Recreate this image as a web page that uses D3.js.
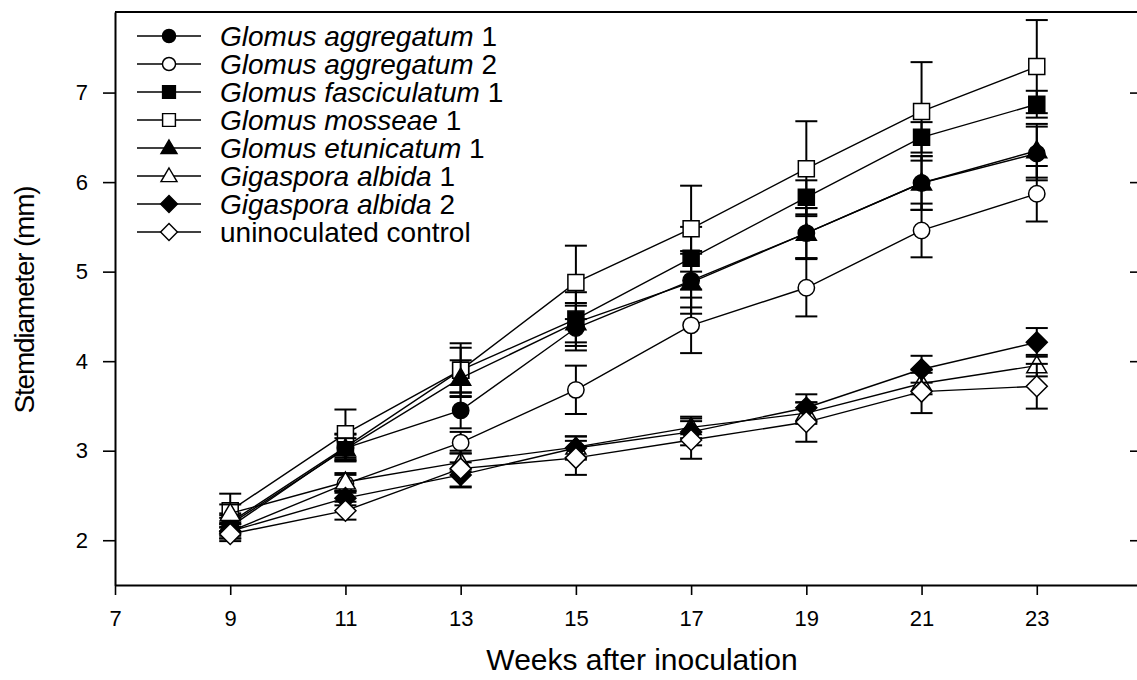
<!DOCTYPE html>
<html>
<head>
<meta charset="utf-8">
<script src="https://cdn.jsdelivr.net/npm/d3@7"></script>
<style>
  body { margin: 0; background: #fff; }
  text { font-family: "Liberation Sans", Arial, sans-serif; fill: #000; }
</style>
</head>
<body>
<script>
// weeks after inoculation
var weeks = [9, 11, 13, 15, 17, 19, 21, 23];

var seriesNames = [
    ["Glomus aggregatum", " 1"],
    ["Glomus aggregatum", " 2"],
    ["Glomus fasciculatum", " 1"],
    ["Glomus mosseae", " 1"],
    ["Glomus etunicatum", " 1"],
    ["Gigaspora albida", " 1"],
    ["Gigaspora albida", " 2"],
    ["", "uninoculated control"]
];

// stem diameter means (mm)
var aggregatum1 = [2.15, 3.03, 3.45, 4.37, 4.90, 5.43, 5.99, 6.32];
var aggregatum2 = [2.10, 2.63, 3.09, 3.68, 4.40, 4.82, 5.46, 5.87];
var fasciculatum1 = [2.20, 3.04, 3.90, 4.47, 5.15, 5.83, 6.50, 6.87];
var mosseae1 = [2.33, 3.19, 3.90, 4.88, 5.48, 6.15, 6.79, 7.29];
var etunicatum1 = [2.18, 3.02, 3.81, 4.43, 4.88, 5.43, 5.99, 6.35];
var albida1 = [2.30, 2.65, 2.87, 3.04, 3.26, 3.42, 3.75, 3.95];
var albida2 = [2.10, 2.47, 2.73, 3.03, 3.21, 3.48, 3.91, 4.21];
var control = [2.07, 2.33, 2.80, 2.92, 3.12, 3.32, 3.66, 3.72];

// standard errors
var aggregatum1Err = [0.10, 0.15, 0.20, 0.25, 0.30, 0.28, 0.30, 0.30];
var aggregatum2Err = [0.08, 0.10, 0.12, 0.27, 0.31, 0.32, 0.30, 0.31];
var fasciculatum1Err = [0.10, 0.15, 0.25, 0.30, 0.35, 0.19, 0.17, 0.15];
var mosseae1Err = [0.19, 0.27, 0.30, 0.41, 0.48, 0.53, 0.55, 0.52];
var etunicatum1Err = [0.10, 0.12, 0.20, 0.22, 0.35, 0.28, 0.30, 0.30];
var albida1Err = [0.10, 0.10, 0.10, 0.12, 0.12, 0.12, 0.12, 0.12];
var albida2Err = [0.08, 0.08, 0.14, 0.13, 0.15, 0.15, 0.15, 0.16];
var controlErr = [0.08, 0.10, 0.20, 0.19, 0.21, 0.22, 0.24, 0.25];

var xTicks = [7, 9, 11, 13, 15, 17, 19, 21, 23];
var yTicks = [2, 3, 4, 5, 6, 7];

var series = [
    { values: aggregatum1, err: aggregatum1Err, shape: "circle", fill: "#000" },
    { values: aggregatum2, err: aggregatum2Err, shape: "circle", fill: "#fff" },
    { values: fasciculatum1, err: fasciculatum1Err, shape: "square", fill: "#000" },
    { values: mosseae1, err: mosseae1Err, shape: "square", fill: "#fff" },
    { values: etunicatum1, err: etunicatum1Err, shape: "triangle", fill: "#000" },
    { values: albida1, err: albida1Err, shape: "triangle", fill: "#fff" },
    { values: albida2, err: albida2Err, shape: "diamond", fill: "#000" },
    { values: control, err: controlErr, shape: "diamond", fill: "#fff" }
];

var W = 1137, H = 680;
var mLeft = 115, mRight = 1152, mTop = 12, mBottom = 585;

var svg = d3.select("body").append("svg")
    .attr("width", W)
    .attr("height", H);

var x = d3.scaleLinear().domain([7, 25]).range([mLeft, mRight]);
var y = d3.scaleLinear().domain([1.5, 7.9]).range([mBottom, mTop]);

function symbolPath(shape) {
    if (shape === "circle") return d3.symbol().type(d3.symbolCircle).size(210)();
    if (shape === "square") return d3.symbol().type(d3.symbolSquare).size(256)();
    if (shape === "triangle") return "M0,-10L10,7L-10,7Z";
    return "M0,-10.5L10.5,0L0,10.5L-10.5,0Z";
}

// frame top
svg.append("line").attr("x1", mLeft).attr("x2", mRight).attr("y1", mTop).attr("y2", mTop)
    .attr("stroke", "#000").attr("stroke-width", 2);

// x axis
var xAxis = svg.append("g")
    .attr("transform", "translate(0," + mBottom + ")")
    .call(d3.axisBottom(x).tickValues(xTicks).tickSize(10).tickPadding(12).tickSizeOuter(0));
// y axis
var yAxis = svg.append("g")
    .attr("transform", "translate(" + mLeft + ",0)")
    .call(d3.axisLeft(y).tickValues(yTicks).tickFormat(d3.format("d"))
        .tickSize(12).tickPadding(15).tickSizeOuter(0));
// right side ticks (inward)
var yAxisR = svg.append("g")
    .attr("transform", "translate(" + mRight + ",0)")
    .call(d3.axisRight(y).tickValues(yTicks).tickSize(-22).tickFormat("").tickSizeOuter(0));

[xAxis, yAxis, yAxisR].forEach(function(a) {
    a.select(".domain").attr("stroke-width", 2);
    a.selectAll(".tick line").attr("stroke-width", 1.6);
    a.selectAll("text").style("font-size", "22px")
        .style("font-family", "'Liberation Sans', Arial, sans-serif");
});
xAxis.selectAll("text").attr("dy", "0.85em");

svg.append("text")
    .attr("x", 642)
    .attr("y", 670)
    .attr("text-anchor", "middle")
    .style("font-size", "30px")
    .text("Weeks after inoculation");

svg.append("text")
    .attr("transform", "translate(34,300) rotate(-90)")
    .attr("text-anchor", "middle")
    .style("font-size", "28px")
    .style("letter-spacing", "-1.2px")
    .text("Stemdiameter (mm)");

var line = d3.line()
    .x(function(d, i) { return x(weeks[i]); })
    .y(function(d) { return y(d); });

var plot = svg.append("g");

series.forEach(function(s) {
    var g = plot.append("g");
    g.append("path")
        .datum(s.values)
        .attr("d", line)
        .attr("fill", "none")
        .attr("stroke", "#000")
        .attr("stroke-width", 1.4);

    var eb = g.selectAll(".eb").data(s.values).enter().append("g")
        .attr("stroke", "#000").attr("stroke-width", 2);
    eb.append("line")
        .attr("x1", function(d, i) { return x(weeks[i]); })
        .attr("x2", function(d, i) { return x(weeks[i]); })
        .attr("y1", function(d, i) { return y(d + s.err[i]); })
        .attr("y2", function(d, i) { return y(d - s.err[i]); });
    eb.append("line")
        .attr("x1", function(d, i) { return x(weeks[i]) - 11; })
        .attr("x2", function(d, i) { return x(weeks[i]) + 11; })
        .attr("y1", function(d, i) { return y(d + s.err[i]); })
        .attr("y2", function(d, i) { return y(d + s.err[i]); });
    eb.append("line")
        .attr("x1", function(d, i) { return x(weeks[i]) - 11; })
        .attr("x2", function(d, i) { return x(weeks[i]) + 11; })
        .attr("y1", function(d, i) { return y(d - s.err[i]); })
        .attr("y2", function(d, i) { return y(d - s.err[i]); });

    g.selectAll(".pt").data(s.values).enter().append("path")
        .attr("d", symbolPath(s.shape))
        .attr("transform", function(d, i) {
            return "translate(" + x(weeks[i]) + "," + y(d) + ")";
        })
        .attr("fill", s.fill)
        .attr("stroke", "#000")
        .attr("stroke-width", 1.5);
});

// legend
var legend = svg.append("g");
var rows = legend.selectAll("g").data(series).enter().append("g")
    .attr("transform", function(d, i) { return "translate(0," + (36 + i * 28) + ")"; });
rows.append("line")
    .attr("x1", 137).attr("x2", 201).attr("y1", 0).attr("y2", 0)
    .attr("stroke", "#000").attr("stroke-width", 1.4);
rows.append("path")
    .attr("d", function(d) { return symbolPath(d.shape); })
    .attr("transform", "translate(169,0) scale(0.8)")
    .attr("fill", function(d) { return d.fill; })
    .attr("stroke", "#000")
    .attr("stroke-width", 1.8);
var labels = rows.append("text")
    .attr("x", 220)
    .attr("y", 10)
    .style("font-size", "28px");
labels.append("tspan")
    .style("font-style", "italic")
    .text(function(d, i) { return seriesNames[i][0]; });
labels.append("tspan")
    .text(function(d, i) { return seriesNames[i][1]; });
</script>
</body>
</html>
